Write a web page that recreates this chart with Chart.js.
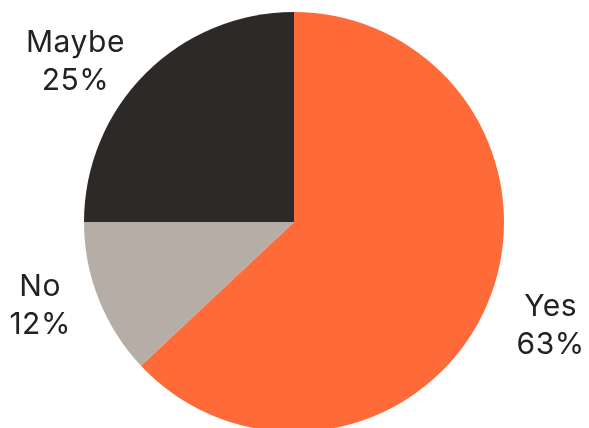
<!DOCTYPE html>
<html>
<head>
<meta charset="utf-8">
<script src="https://cdn.jsdelivr.net/npm/chart.js@4/dist/chart.umd.min.js"></script>
<style>
  html, body { margin: 0; padding: 0; background: #fff; overflow: hidden; }
  #wrap { width: 589px; height: 444px; }
</style>
</head>
<body>
<div id="wrap"><canvas id="pie" width="589" height="444"></canvas></div>
<script>
// answers and shares (%)
const labels = ["Yes", "No", "Maybe"];
const shares = [63, 12, 25];
const colors = ["#FF6A39", "#B6AEA6", "#2D2926"];

// label placement: offset (px) from a point at 1.29 × radius on the slice's middle angle
const labelNudge = [[8, -4], [-2, -16], [-27, 32]];

const outsideLabels = {
  id: "outsideLabels",
  afterDraw(chart) {
    const ctx = chart.ctx;
    const arcs = chart.getDatasetMeta(0).data;
    ctx.save();
    ctx.font = "400 30px Inter, 'Open Sans', sans-serif";
    if ("letterSpacing" in ctx) ctx.letterSpacing = "0.5px";
    ctx.fillStyle = "#222";
    ctx.textAlign = "center";
    ctx.textBaseline = "middle";
    arcs.forEach((arc, i) => {
      const p = arc.getProps(["x", "y", "startAngle", "endAngle", "outerRadius"], true);
      const mid = (p.startAngle + p.endAngle) / 2;
      const r = p.outerRadius * 1.29;
      const x = p.x + Math.cos(mid) * r + labelNudge[i][0];
      const y = p.y + Math.sin(mid) * r + labelNudge[i][1];
      ctx.fillText(labels[i], x, y - 19);
      ctx.fillText(shares[i] + "%", x, y + 19);
    });
    ctx.restore();
  }
};

new Chart(document.getElementById("pie"), {
  type: "pie",
  data: {
    labels: labels,
    datasets: [{ data: shares, backgroundColor: colors, borderWidth: 0 }]
  },
  options: {
    responsive: false,
    animation: false,
    layout: { padding: { top: 12, bottom: 12, left: 84, right: 85 } },
    plugins: { legend: { display: false }, tooltip: { enabled: false } }
  },
  plugins: [outsideLabels]
});
</script>
</body>
</html>
